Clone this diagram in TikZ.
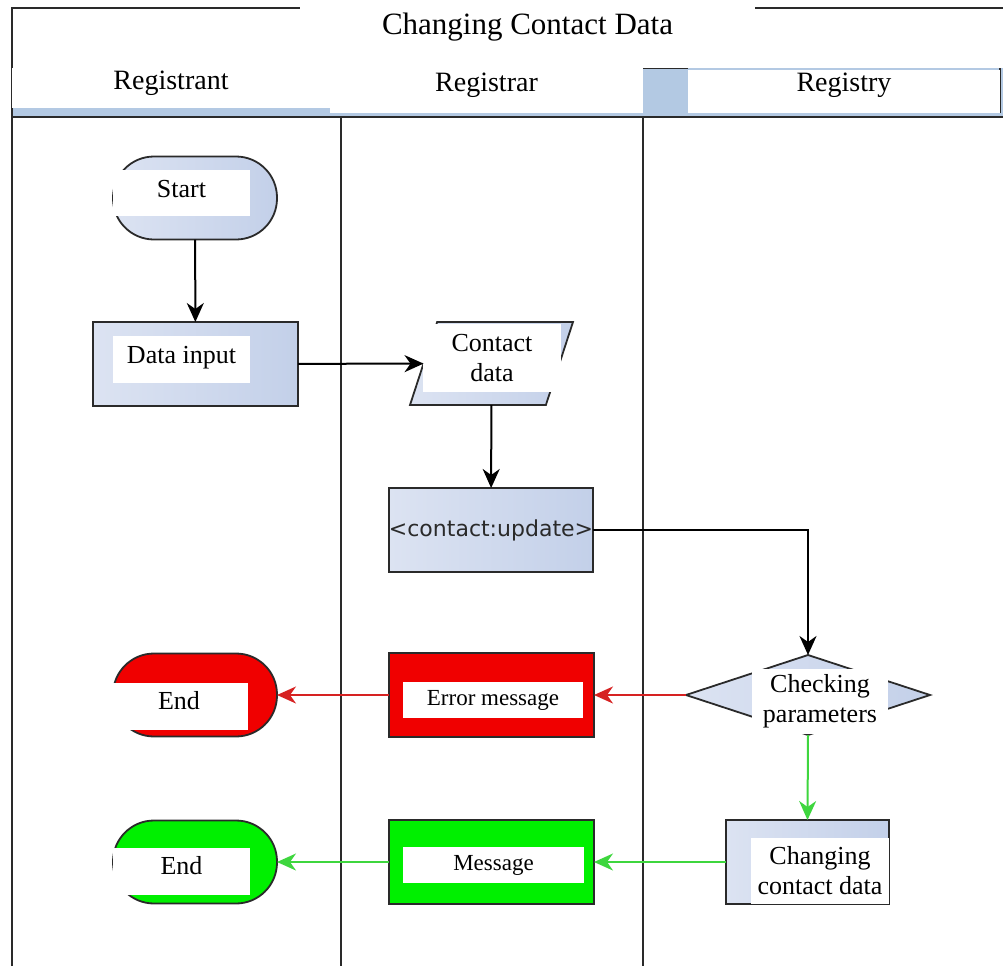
\documentclass[tikz,border=0pt]{standalone}
\usepackage{fontspec}
\setmainfont{Liberation Serif}
\newfontfamily\codefont{DejaVu Sans}
\usetikzlibrary{shapes.geometric,arrows.meta}

\definecolor{laneblue}{HTML}{B3C9E3}
\definecolor{boxlight}{HTML}{DCE3F2}
\definecolor{boxdark}{HTML}{C3D0E9}
\definecolor{edgegrey}{HTML}{2A2A2A}
\definecolor{errred}{HTML}{F00000}
\definecolor{okgreen}{HTML}{00F000}
\definecolor{redline}{HTML}{D62222}
\definecolor{greenline}{HTML}{3ED63E}

\begin{document}
\begin{tikzpicture}[x=1pt, y=-1pt,
  every node/.style={inner sep=0pt, outer sep=0pt},
  shapebox/.style={draw=edgegrey, line width=1.8pt, left color=boxlight, right color=boxdark},
  terminal/.style={shapebox, rectangle, rounded corners=41pt, minimum width=164pt, minimum height=83pt},
  process/.style={shapebox, rectangle, minimum height=84pt},
  labelbox/.style={fill=white, align=center, font=\fontsize{26}{30}\selectfont},
  flow/.style={line width=2pt, -{Stealth[length=19pt, width=17pt, inset=6pt]}}]

  \useasboundingbox (0,0) rectangle (1003,966);

  % Frame and header row
  \fill[laneblue] (12,68) rectangle (1003,117);
  \draw[edgegrey, line width=2pt] (12,966) -- (12,8) -- (1003,8);
  \draw[edgegrey, line width=2pt] (12,117) -- (1003,117);
  \foreach \xl in {341,643} {
    \draw[edgegrey, line width=2pt] (\xl,117) -- (\xl,966);
  }
  \draw[edgegrey, line width=2pt] (643,68) -- (688,68);
  \draw[edgegrey, line width=2pt] (1000,68) -- (1000,113);
  \draw[edgegrey, line width=1.5pt] (330,68) -- (330,76);

  % Title
  \node[fill=white, minimum width=455pt, minimum height=68pt, anchor=north west,
    font=\fontsize{31}{36}\selectfont, text depth=20pt] (title) at (300,0) {Changing Contact Data};

  % Lane headers
  \node[fill=white, minimum width=318pt, minimum height=40pt, anchor=north west,
    font=\fontsize{28}{32}\selectfont, text depth=16pt] (hdrant) at (12,68) {Registrant};
  \node[fill=white, minimum width=313pt, minimum height=45pt, anchor=north west,
    font=\fontsize{28}{32}\selectfont, text depth=17pt] (hdrar) at (330,68) {Registrar};
  \node[fill=white, minimum width=312pt, minimum height=43pt, anchor=north west,
    font=\fontsize{28}{32}\selectfont, text depth=18pt] (hdrry) at (688,70) {Registry};

  % Shapes
  \node[terminal] (start) at (195,198) {};
  \node[process, minimum width=205pt] (input) at (195.5,364) {};
  \node[shapebox, trapezium, trapezium left angle=76, trapezium right angle=104, inner sep=4pt,
    trapezium stretches=true, minimum width=163pt, minimum height=83pt] (cdata) at (491.5,363.5) {};
  \node[process, minimum width=204pt, text=edgegrey,
    font=\codefont\fontsize{22}{26}\selectfont] (upd) at (491,530) {<contact:update>};
  \node[shapebox, diamond, minimum width=244pt, minimum height=80pt] (chk) at (808,695) {};
  \node[process, minimum width=205pt, left color=errred, right color=errred] (err) at (491.5,695) {};
  \node[terminal, left color=errred, right color=errred] (endr) at (195,695) {};
  \node[process, minimum width=163pt] (chg) at (807.5,862) {};
  \node[process, minimum width=205pt, left color=okgreen, right color=okgreen] (msg) at (491.5,862) {};
  \node[terminal, left color=okgreen, right color=okgreen] (endg) at (195,862) {};

  % Labels
  \node[labelbox, minimum width=137pt, minimum height=46pt,
    text height=18pt, text depth=10pt] (startlbl) at (181.5,193) {Start};
  \node[labelbox, minimum width=137pt, minimum height=47pt,
    text height=18pt, text depth=11pt] (inputlbl) at (181.5,359.5) {Data input};
  \node[labelbox, minimum width=138pt, minimum height=68pt] (cdatalbl) at (492,358) {Contact\\data};
  \node[labelbox, minimum width=136pt, minimum height=65pt] (chklbl) at (820,701) {Checking\\parameters};
  \node[labelbox, minimum width=180pt, minimum height=36pt,
    font=\fontsize{23}{27}\selectfont] (errlbl) at (493,700) {Error message};
  \node[labelbox, minimum width=137pt, minimum height=47pt,
    text height=18pt, text depth=12pt] (endrlbl) at (179,706) {End};
  \node[labelbox, minimum width=138pt, minimum height=66pt] (chglbl) at (820,871) {Changing\\contact data};
  \node[labelbox, minimum width=181pt, minimum height=36pt,
    font=\fontsize{23}{27}\selectfont] (msglbl) at (493.5,865) {Message};
  \node[labelbox, minimum width=137pt, minimum height=47pt,
    text height=18pt, text depth=12pt] (endglbl) at (181.5,871.5) {End};

  % Connectors
  \draw[flow] (start) -- (input);
  \draw[flow] (input) -- (cdata);
  \draw[flow] (cdata) -- (upd);
  \draw[flow] (upd.east) -| (chk.north);
  \draw[flow, redline] (chk.west) -- (err.east);
  \draw[flow, redline] (err.west) -- (endr.east);
  \draw[flow, greenline] (chk.south) -- (chg.north);
  \draw[flow, greenline] (chg.west) -- (msg.east);
  \draw[flow, greenline] (msg.west) -- (endg.east);

\end{tikzpicture}
\end{document}
